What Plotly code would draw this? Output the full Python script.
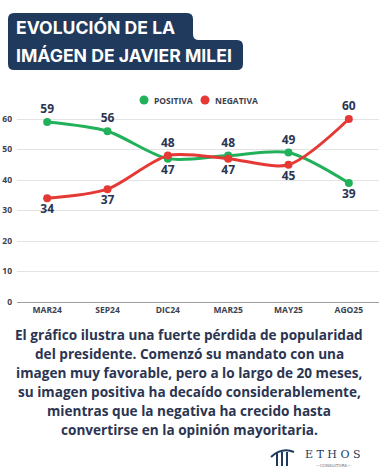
import plotly.graph_objects as go

categories = ["MAR24", "SEP24", "DIC24", "MAR25", "MAY25", "AGO25"]
positiva = [59, 56, 47, 48, 49, 39]
negativa = [34, 37, 48, 47, 45, 60]
y_ticks = [0, 10, 20, 30, 40, 50, 60]
series_names = ["POSITIVA", "NEGATIVA"]

W, H = 380, 475
GREEN = "#20b15a"
RED = "#e53935"
NAVY = "#1f3a5d"
TXT = "#2b3552"
AX = "#3a4150"

def px(x):
    return x / W

def py(y):
    return (H - y) / H

def pos_for(a, b):
    return ["top center" if u >= v else "bottom center" for u, v in zip(a, b)]

fig = go.Figure()
for name, vals, other, col in [(series_names[0], positiva, negativa, GREEN),
                               (series_names[1], negativa, positiva, RED)]:
    fig.add_trace(go.Scatter(
        x=categories, y=vals, mode="lines+markers+text", name=name,
        line=dict(color=col, width=3, shape="spline", smoothing=0.8),
        marker=dict(color=col, size=8),
        text=[str(v) for v in vals], textposition=pos_for(vals, other),
        textfont=dict(family="Open Sans", size=12, color=TXT, weight="bold"),
        showlegend=False, cliponaxis=False, hoverinfo="skip"))

ytop = 62
fig.update_layout(
    width=W, height=H, margin=dict(l=0, r=0, t=0, b=0, autoexpand=False),
    paper_bgcolor="white", plot_bgcolor="white", showlegend=False,
    xaxis=dict(domain=[px(17), px(379)], range=[-0.5, 5.5], type="category",
               automargin=False, showgrid=False, showline=True, linecolor="#a0a0a0", linewidth=1,
               ticks="", tickfont=dict(family="Open Sans", size=8.5, color=AX, weight="bold")),
    yaxis=dict(domain=[py(302), py(302 - ytop * 3.05)], range=[0, ytop], automargin=False,
               tickvals=y_ticks, showgrid=True, gridcolor="#e3e3e3", gridwidth=1,
               zeroline=False, ticks="", ticklabelstandoff=4,
               tickfont=dict(family="Open Sans", size=8.5, color=AX, weight="bold")),
)

# custom legend
for (cx, tx), name, col in zip([(144, 152), (205, 213)], series_names, [GREEN, RED]):
    fig.add_shape(type="circle", xref="paper", yref="paper",
                  x0=px(cx - 4.5), x1=px(cx + 4.5), y0=py(100 + 4.5), y1=py(100 - 4.5),
                  fillcolor=col, line=dict(width=0))
    fig.add_annotation(text=name, x=px(tx), y=py(100), xref="paper", yref="paper",
                       xanchor="left", yanchor="middle", showarrow=False,
                       font=dict(family="Open Sans", size=8.5, color=AX, weight="bold"))

# Title box with notch
r = 6
L, T, R1, NY, R2, B = 8, 13, 193, 40, 243, 70
path = (f"M {px(L+r)},{py(T)} L {px(R1-r)},{py(T)} Q {px(R1)},{py(T)} {px(R1)},{py(T+r)} "
        f"L {px(R1)},{py(NY-r)} Q {px(R1)},{py(NY)} {px(R1+r)},{py(NY)} "
        f"L {px(R2-r)},{py(NY)} Q {px(R2)},{py(NY)} {px(R2)},{py(NY+r)} "
        f"L {px(R2)},{py(B-r)} Q {px(R2)},{py(B)} {px(R2-r)},{py(B)} "
        f"L {px(L+r)},{py(B)} Q {px(L)},{py(B)} {px(L)},{py(B-r)} "
        f"L {px(L)},{py(T+r)} Q {px(L)},{py(T)} {px(L+r)},{py(T)} Z")
fig.add_shape(type="path", path=path, xref="paper", yref="paper",
              fillcolor=NAVY, line=dict(width=0), layer="below")
for txt, yc in [("EVOLUCIÓN DE LA", 27.5), ("IMÁGEN DE JAVIER MILEI", 55)]:
    fig.add_annotation(text=txt, x=px(14), y=py(yc), xref="paper", yref="paper",
                       xanchor="left", yanchor="middle", showarrow=False,
                       font=dict(family="Inter", size=17.6, color="white", weight="bold"))

# paragraph
lines = [
    "El gráfico ilustra una fuerte pérdida de popularidad",
    "del presidente. Comenzó su mandato con una",
    "imagen muy favorable, pero a lo largo de 20 meses,",
    "su imagen positiva ha decaído considerablemente,",
    "mientras que la negativa ha crecido hasta",
    "convertirse en la opinión mayoritaria.",
]
for i, ln in enumerate(lines):
    fig.add_annotation(text=ln, x=px(189), y=py(334.5 + i * 18.9), xref="paper", yref="paper",
                       xanchor="center", yanchor="middle", showarrow=False,
                       font=dict(family="Open Sans", size=13.6, color=TXT, weight="bold"))

# logo
fig.add_annotation(text="E T H O S", x=px(333), y=py(454), xref="paper", yref="paper",
                   xanchor="center", yanchor="middle", showarrow=False,
                   font=dict(family="DejaVu Serif", size=11, color=NAVY))
fig.add_annotation(text="—CONSULTORA—", x=px(333), y=py(465), xref="paper", yref="paper",
                   xanchor="center", yanchor="middle", showarrow=False,
                   font=dict(family="DejaVu Sans", size=4, color="#6a7080"))
logo = (f"M {px(271)},{py(457)} Q {px(282)},{py(447)} {px(294)},{py(452)}")
fig.add_shape(type="path", path=logo, xref="paper", yref="paper",
              line=dict(color=NAVY, width=2))
for xx in [277, 282, 287]:
    fig.add_shape(type="line", x0=px(xx), x1=px(xx), y0=py(452), y1=py(466),
                  xref="paper", yref="paper", line=dict(color=NAVY, width=2))

fig.write_html("out.html", config={"displayModeBar": False, "staticPlot": True},
               post_script="document.body.style.margin='0';document.body.style.overflow='hidden';")
